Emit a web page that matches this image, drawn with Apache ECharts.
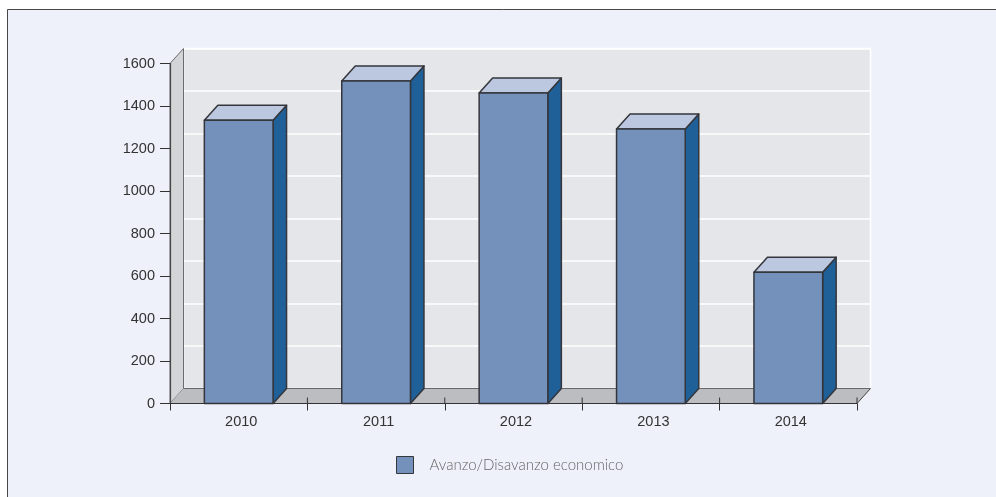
<!DOCTYPE html>
<html>
<head>
<meta charset="utf-8">
<style>html,body{margin:0;padding:0;background:#fff}#chart{width:996px;height:497px}</style>
<script src="https://cdn.jsdelivr.net/npm/echarts@6/dist/echarts.min.js"></script>
</head>
<body>
<div id="chart"></div>
<script>
const years = ['2010', '2011', '2012', '2013', '2014'];
const avanzo = [1333, 1518, 1461, 1292, 618];
const seriesName = 'Avanzo/Disavanzo economico';

// Offset of the pseudo-3D back plane from the front plane, in pixels
const DX = 13.5, DY = -15;
const FRONT = '#7391bb', TOP = '#bcc8e0', SIDE = '#1f6098', EDGE = '#34363c';
const chart = echarts.init(document.getElementById('chart'), null, {renderer: 'canvas'});

// Side wall, floor and the short upward ticks on the floor
function renderShell(params, api) {
  const i = params.dataIndex;
  const band = api.size([1, 0])[0];
  const base = api.coord([i, 0]);
  const top = api.coord([i, 1600]);
  const left = base[0] - band / 2, right = base[0] + band / 2;
  const kids = [];
  if (i === 0) {
    const end = left + band * years.length;
    kids.push({type: 'polygon', shape: {points: [[left, base[1]], [left, top[1]], [left + DX, top[1] + DY], [left + DX, base[1] + DY]]},
      style: {fill: '#d3d4d6', stroke: '#6a6b70', lineWidth: 1}});
    kids.push({type: 'polygon', shape: {points: [[left, base[1]], [end, base[1]], [end + DX, base[1] + DY], [left + DX, base[1] + DY]]},
      style: {fill: '#bcbdc0', stroke: 'none'}});
    kids.push({type: 'line', shape: {x1: left + DX, y1: base[1] + DY, x2: end + DX, y2: base[1] + DY},
      style: {stroke: '#66676b', lineWidth: 1.2}});
    kids.push({type: 'line', shape: {x1: end, y1: base[1], x2: end + DX, y2: base[1] + DY},
      style: {stroke: '#444', lineWidth: 1}});
    kids.push({type: 'line', shape: {x1: end, y1: base[1], x2: end, y2: base[1] - 6},
      style: {stroke: '#333', lineWidth: 1}});
  } else {
    kids.push({type: 'line', shape: {x1: left, y1: base[1], x2: left, y2: base[1] - 6},
      style: {stroke: '#333', lineWidth: 1}});
  }
  return {type: 'group', children: kids};
}

function renderBar(params, api) {
  const p = api.coord([api.value(0), api.value(1)]);
  const b = api.coord([api.value(0), 0]);
  const w = api.size([1, 0])[0] * 0.5;
  const l = p[0] - w / 2, r = p[0] + w / 2, t = p[1], y0 = b[1];
  const stroke = {stroke: EDGE, lineWidth: 1.5, lineJoin: 'round'};
  return {type: 'group', children: [
    {type: 'polygon', shape: {points: [[r, t], [r + DX, t + DY], [r + DX, y0 + DY], [r, y0]]}, style: {fill: SIDE, ...stroke}},
    {type: 'polygon', shape: {points: [[l, t], [l + DX, t + DY], [r + DX, t + DY], [r, t]]}, style: {fill: TOP, ...stroke}},
    {type: 'rect', shape: {x: l, y: t, width: w, height: y0 - t}, style: {fill: FRONT, ...stroke}}
  ]};
}

const axisText = {fontFamily: '"Liberation Sans", Arial, sans-serif', fontSize: 14.5, color: '#333'};

chart.setOption({
  animation: false,
  backgroundColor: '#fff',
  graphic: [
    {type: 'rect', z: -10, shape: {x: 7.5, y: 9.5, width: 990, height: 489},
      style: {fill: '#eef1fa', stroke: '#45464a', lineWidth: 1}}
  ],
  grid: [
    {left: 170, top: 63.5, width: 687, height: 340},
    {left: 183.5, top: 48.5, width: 687, height: 340, show: true, backgroundColor: '#e5e6e9', borderColor: '#fff', borderWidth: 1.5}
  ],
  xAxis: [
    {type: 'category', gridIndex: 0, data: years, z: 5,
      axisLine: {lineStyle: {color: '#333', width: 1.2}},
      axisTick: {show: true, length: 7, lineStyle: {color: '#333'}},
      axisLabel: {...axisText, margin: 11, padding: [0, 0, 0, 5]}},
    {type: 'category', gridIndex: 1, data: years, show: false}
  ],
  yAxis: [
    {type: 'value', gridIndex: 0, min: 0, max: 1600, interval: 200, z: 5,
      axisLine: {show: true, lineStyle: {color: '#45464a', width: 1.2}},
      axisTick: {show: true, length: 10, lineStyle: {color: '#333'}},
      splitLine: {show: false},
      axisLabel: {...axisText, margin: 15, formatter: v => String(v)}},
    {type: 'value', gridIndex: 1, min: 0, max: 1600, interval: 200,
      axisLine: {show: false}, axisTick: {show: false}, axisLabel: {show: false},
      splitLine: {show: true, lineStyle: {color: '#fff', width: 1.5}}}
  ],
  legend: {
    left: 396, top: 456, padding: 0, itemWidth: 17, itemHeight: 17, itemGap: 16,
    data: [{name: seriesName, icon: 'rect'}],
    selectedMode: false,
    itemStyle: {borderWidth: 1, borderColor: EDGE},
    textStyle: {fontFamily: 'Lato, "Open Sans", sans-serif', fontWeight: 300, fontSize: 15, color: '#666', padding: [0, 0, 4, 11]}
  },
  series: [
    {type: 'custom', name: 'shell', silent: true, xAxisIndex: 0, yAxisIndex: 0, z: 1,
      renderItem: renderShell, data: years.map((y, i) => [i, 0]), clip: false},
    {type: 'custom', name: seriesName, xAxisIndex: 0, yAxisIndex: 0, z: 3,
      renderItem: renderBar, encode: {x: 0, y: 1}, clip: false,
      itemStyle: {color: FRONT, borderColor: EDGE, borderWidth: 1.5},
      data: avanzo.map((v, i) => [i, v])}
  ]
});
</script>
</body>
</html>
